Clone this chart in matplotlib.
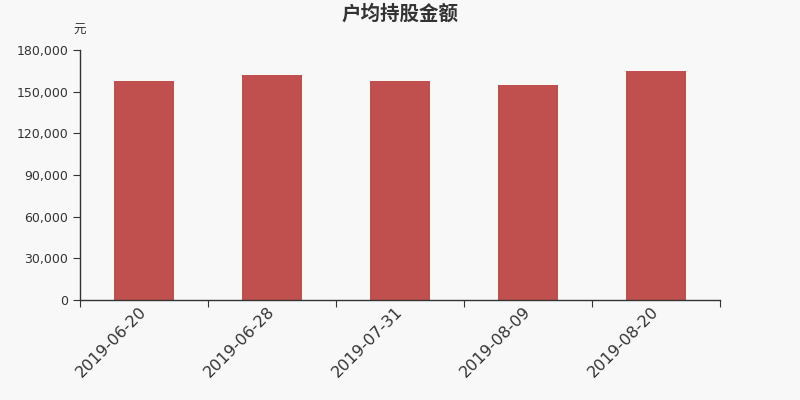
import matplotlib
matplotlib.use("Agg")
import matplotlib.pyplot as plt
from matplotlib.ticker import FuncFormatter

plt.rcParams['font.family'] = ['Noto Sans CJK SC', 'DejaVu Sans']

categories = ["2019-06-20", "2019-06-28", "2019-07-31", "2019-08-09", "2019-08-20"]
values = [157700, 162300, 157700, 154700, 165200]
yticks = [0, 30000, 60000, 90000, 120000, 150000, 180000]

bg = "#f8f8f8"
fig = plt.figure(figsize=(8, 4), dpi=100, facecolor=bg)
ax = fig.add_axes([0.1, 0.25, 0.8, 0.625], facecolor=bg)

x = list(range(len(categories)))
ax.bar(x, values, width=0.47, color="#c0504e", zorder=2)
ax.set_xlim(-0.5, len(categories) - 0.5)
ax.set_ylim(0, 180000)
ax.set_yticks(yticks)
ax.yaxis.set_major_formatter(FuncFormatter(lambda v, p: f"{int(v):,}"))
ax.set_xticks([i - 0.5 for i in range(len(categories) + 1)], minor=False)
ax.set_xticklabels([])
ax.set_xticks(x, minor=True)
ax.set_xticklabels(categories, minor=True, rotation=45, ha='right', va='center',
                   rotation_mode='anchor', fontsize=11.5, color="#333333",
                   family='DejaVu Sans')
ax.tick_params(axis='x', which='minor', length=0, pad=7)
ax.tick_params(axis='x', which='major', length=5, color="#333333", direction='out')
ax.tick_params(axis='y', length=5, color="#333333", labelsize=9, labelcolor="#333333")
for lab in ax.get_yticklabels():
    lab.set_family('DejaVu Sans')

for s in ['top', 'right']:
    ax.spines[s].set_visible(False)
for s in ['left', 'bottom']:
    ax.spines[s].set_color("#333333")
    ax.spines[s].set_linewidth(1)

fig.text(0.5, 0.966, "户均持股金额", ha='center', va='center', fontsize=14,
         fontweight='bold', color="#333333")
fig.text(0.099, 0.925, "元", ha='center', va='center', fontsize=9, color="#333333")

fig.savefig("out.png", dpi=100, facecolor=bg)
